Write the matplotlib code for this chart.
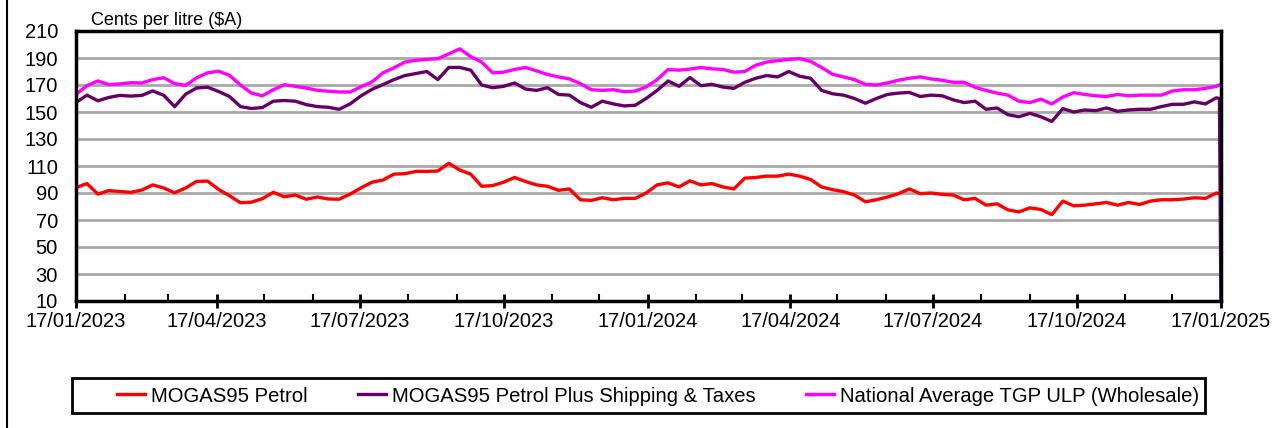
import matplotlib
matplotlib.use("Agg")
import matplotlib.pyplot as plt
import pandas as pd
from matplotlib.lines import Line2D
from matplotlib.patches import Rectangle

plt.rcParams['font.family'] = ['Liberation Sans', 'DejaVu Sans']

# ---- data (roughly weekly) ----
week_dates = pd.date_range("2023-01-17", "2025-01-14", freq="7D")
end_dates = pd.to_datetime(["2025-01-16", "2025-01-17"])
dates = week_dates.append(end_dates)

mogas95 = [
    94, 97, 89.2, 91.8, 91.1, 90.5, 92.2, 96, 93.7, 90.2, 93.7, 98.6, 98.8, 92.7, 88, 82.8, 83.2, 85.8,
    90.5, 87.2, 88.5, 85.4, 87, 85.6, 85.4, 89.2, 93.8, 98, 99.6, 104, 104.3, 106, 106, 106.3, 112, 107,
    104, 95, 95.5, 98, 101.5, 98.5, 96, 95, 92, 93, 85, 84.5, 86.5, 85, 86, 86, 90, 96,
    97.5, 94.5, 99, 96, 97, 94.5, 93, 101, 101.5, 102.5, 102.5, 104, 102.5, 100, 94.5, 92.5, 91, 88.5,
    83.5, 85, 87, 89.5, 93, 89.5, 90, 89, 88.5, 85, 86, 81, 82, 77.5, 76, 79, 77.8, 74,
    84, 80.5, 81, 82, 83, 81, 83, 81.5, 84, 85, 85, 85.5, 86.5, 86, 90,
    89.5, 88,
]

mogas95_plus = [
    157, 162.5, 158.3, 160.8, 162.3, 161.8, 162.3, 165.6, 162.4, 154, 163.2, 167.8, 168.4, 165.2, 161.5, 154, 152.6, 153.3,
    158, 158.5, 158, 155.5, 154, 153.5, 152, 156, 162, 166.8, 170.3, 174, 177, 178.5, 180, 174, 183, 183,
    181, 170, 168, 169, 171.5, 167, 166, 168, 163, 162.5, 157, 153.5, 158, 156, 154.5, 155, 160, 166,
    173, 169, 175.5, 169.5, 170.5, 168.5, 167.5, 172, 175, 177, 176, 180, 176.5, 175, 166, 163.5, 162.5, 160,
    156.5, 160, 163, 164, 164.5, 161.5, 162.5, 162, 159, 157, 158, 152, 153, 148, 146.5, 149, 146.5, 143,
    152.5, 150, 151.5, 151, 153, 150.5, 151.5, 152, 152, 154, 155.7, 155.7, 157.5, 156, 160.5,
    160, 0,
]

tgp_ulp = [
    163, 169.5, 173, 170.3, 170.8, 171.7, 171.5, 174, 175.4, 171, 169.8, 175.3, 179, 180.2, 177.2, 170, 164, 162,
    166.5, 170.2, 169, 167.8, 166.1, 165.4, 164.8, 164.8, 168.7, 172.3, 179, 182.7, 187, 188.3, 189, 189.5, 193, 196.8,
    191, 187, 179, 179.5, 181.5, 183, 180.5, 177.8, 176, 174.5, 171, 166.5, 166, 166.5, 165, 165.5, 168.5, 174,
    181.4, 181, 181.8, 183, 182, 181.5, 179.5, 180, 184.6, 187, 188, 189, 189.5, 187.5, 183, 178, 176, 174,
    170.5, 170, 171.5, 173.5, 175, 176, 174.5, 173.5, 172, 172, 168.3, 166, 164, 162.5, 158, 157, 159.5, 156,
    161, 164.3, 163, 162, 161.5, 163, 162, 162.5, 162.5, 162.5, 165.5, 166.5, 166.5, 167.5, 169,
    170, 170,
]

series_labels = ["MOGAS95 Petrol", "MOGAS95 Petrol Plus Shipping & Taxes",
                 "National Average TGP ULP (Wholesale)"]
series_colors = ["#ff0000", "#660066", "#ff00ff"]

tick_dates = pd.to_datetime(["2023-01-17", "2023-04-17", "2023-07-17", "2023-10-17",
                             "2024-01-17", "2024-04-17", "2024-07-17", "2024-10-17",
                             "2025-01-17"])
tick_labels = ["17/01/2023", "17/04/2023", "17/07/2023", "17/10/2023",
               "17/01/2024", "17/04/2024", "17/07/2024", "17/10/2024", "17/01/2025"]
minor_dates = pd.date_range("2023-01-17", "2025-01-17", freq=pd.DateOffset(months=1))
y_ticks = list(range(10, 211, 20))

# ---- figure ----
W, H = 1284, 428
fig = plt.figure(figsize=(W / 100, H / 100), dpi=100)
ax = fig.add_axes([76 / W, 1 - 301 / H, (1221 - 76) / W, (301 - 31) / H])

handles = []
for vals, col, lab in zip([mogas95, mogas95_plus, tgp_ulp], series_colors, series_labels):
    h, = ax.plot(dates, vals, color=col, lw=2.4, label=lab, solid_joinstyle='round')
    handles.append(h)

ax.set_xlim(pd.Timestamp("2023-01-17"), pd.Timestamp("2025-01-17"))
ax.set_ylim(10, 210)
ax.set_yticks(y_ticks)
ax.set_xticks(tick_dates)
ax.set_xticklabels(tick_labels)
ax.set_xticks(minor_dates, minor=True)

ax.grid(axis='y', color='#a8a8a8', lw=2)
ax.tick_params(axis='x', which='major', direction='inout', length=10, width=2,
               labelsize=14.5, pad=3, color='black')
ax.tick_params(axis='x', which='minor', direction='in', length=5, width=1.5, color='black')
ax.tick_params(axis='y', length=0, labelsize=14.5, pad=13)

for s in ax.spines.values():
    s.set_color('black')
    s.set_linewidth(2.5)

fig.text(91 / W, 1 - 25 / H, "Cents per litre ($A)", fontsize=13, va='baseline', ha='left')

fig.legend(handles, series_labels, loc='center left',
           bbox_to_anchor=(117 / W, 1 - 396 / H), ncol=3, frameon=False,
           fontsize=14.6, handlelength=1.4, handletextpad=0.3, columnspacing=2.45,
           borderpad=0, borderaxespad=0)

fig.patches.append(Rectangle((72 / W, 1 - 413 / H), (1205 - 72) / W, 35 / H,
                             transform=fig.transFigure, fill=False, ec='black', lw=2))
fig.add_artist(Line2D([7 / W, 7 / W], [0, 1], color='black', lw=1.5,
                      transform=fig.transFigure))

fig.savefig("out.png", dpi=100)
